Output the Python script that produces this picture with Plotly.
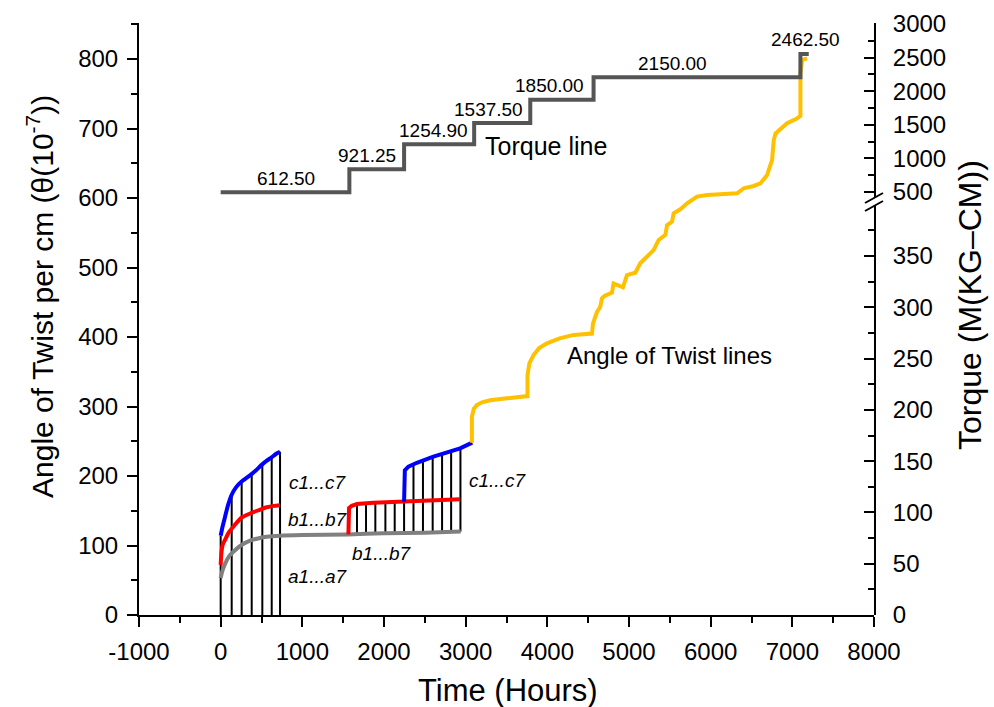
import plotly.graph_objects as go

# ---------------- data ----------------
# a1...a7 (grey) creep curve
a_t = [0, 20, 55, 100, 155, 255, 360, 470, 565, 727, 1000, 1560, 2000, 2500, 2940]
a_v = [53, 63, 74, 84, 91, 100.7, 107, 110.5, 112.5, 114, 115, 116, 117.5, 118.5, 120]

# b1...b7 (red) first load
b1_t = [0, 8, 24, 53, 100, 155, 255, 360, 470, 565, 650, 727]
b1_v = [72, 88, 101, 108, 119, 127, 140, 146, 151, 155, 157, 158]
# b1...b7 (red) second load
b2_t = [1564, 1564, 1572, 1605, 1669, 1870, 2238, 2605, 2932]
b2_v = [116, 148, 154, 157, 159.7, 161.6, 163, 165.5, 166.5]

# c1...c7 (blue) first load
c1_t = [0, 25, 55, 90, 135, 190, 257, 359, 430, 502, 565, 625, 680, 727]
c1_v = [114, 128, 142, 158, 173, 184, 192, 201, 208, 216, 222, 227, 232, 235]
# c1...c7 (blue) second load
c2_t = [2246, 2246, 2255, 2299, 2402, 2605, 2810, 2932, 3080]
c2_v = [163, 201, 208, 213.4, 219, 227.8, 235, 239.8, 248]

# angle of twist (yellow)
y_t = [3076, 3076, 3100, 3137, 3200, 3300, 3505, 3757, 3757, 3780, 3831, 3900, 3995, 4150,
       4321, 4547, 4559, 4580, 4608, 4648, 4669, 4700, 4792, 4811, 4870, 4926, 4975, 5077,
       5138, 5220, 5301, 5363, 5445, 5466, 5527, 5547, 5629, 5711, 5833, 5956, 6241, 6324,
       6405, 6527, 6609, 6691, 6752, 6772, 6795, 6860, 6936, 7050, 7099, 7099, 7120, 7181]
y_v = [248, 285, 297, 302, 306, 309, 311.8, 315, 345, 362, 374, 384, 391, 398,
       403, 405, 419.7, 428, 436, 443.6, 455.7, 459, 463.8, 477, 474, 471.5, 489, 492.5,
       506, 515, 525, 539.6, 546.8, 561, 566, 578, 583.7, 592.4, 602, 604.3, 605.3, 606.7,
       614, 617.3, 621, 633, 654.7, 683, 693, 700, 707.5, 714, 718, 779, 798.6, 801]

# vertical measurement lines
g1_t = [0, 135, 257, 380, 510, 625, 727]
g1_top = [114, 173, 192, 203, 217, 227, 235]
g2b_t = [1669, 1780, 1894, 2017, 2131]
g2b_bot = [117, 117.5, 118, 118, 118.5]
g2b_top = [159.7, 160.5, 161.3, 162, 162.5]
g2c_t = [2246, 2361, 2477, 2596, 2711, 2822, 2936]
g2c_bot = [118.5, 119, 119, 119.5, 119.5, 120, 120]
g2c_top = [201, 217, 222.5, 227.8, 232, 235.5, 240]

# torque steps
torque_t = [0, 1576, 2246, 3104, 3791, 4566, 7099, 7201]
torque_v = [612.5, 921.25, 1254.9, 1537.5, 1850.0, 2150.0, 2462.5, 2462.5]
torque_labels = ["612.50", "921.25", "1254.90", "1537.50", "1850.00", "2150.00", "2462.50"]

# tick labels
x_ticks = [-1000, 0, 1000, 2000, 3000, 4000, 5000, 6000, 7000, 8000]
x_ticklabels = ["-1000", "0", "1000", "2000", "3000", "4000", "5000", "6000", "7000", "8000"]

# ---------------- layout geometry ----------------
W, H = 994, 707
ML, MR, MT, MB = 139, 120, 23, 92
PW = W - ML - MR
PH = H - MT - MB
BOTTOM = H - MB


def pxx(px):
    return (px - ML) / PW


def pxy(py):
    return (BOTTOM - py) / PH


FONT = "Liberation Sans, Arial, sans-serif"

# torque hidden axis mapping (left-axis units = A + B*torque)
A_MAP, B_MAP = 542.5, 0.1075
LEFT_TOP = 851.8

fig = go.Figure()


def seg_xy(ts, bots, tops):
    xs, ys = [], []
    for t, b, tp in zip(ts, bots, tops):
        xs += [t, t, None]
        ys += [b, tp, None]
    return xs, ys


lx1, ly1 = seg_xy(g1_t, [0] * len(g1_t), g1_top)
lx2, ly2 = seg_xy(g2b_t, g2b_bot, g2b_top)
lx3, ly3 = seg_xy(g2c_t, g2c_bot, g2c_top)
fig.add_trace(go.Scatter(x=lx1 + lx2 + lx3, y=ly1 + ly2 + ly3, mode="lines",
                         line=dict(color="black", width=2), hoverinfo="skip"))

fig.add_trace(go.Scatter(x=a_t, y=a_v, mode="lines", line=dict(color="#808080", width=4, shape="spline", smoothing=0.6)))
fig.add_trace(go.Scatter(x=b1_t, y=b1_v, mode="lines", line=dict(color="#FF0000", width=4, shape="spline", smoothing=0.6)))
fig.add_trace(go.Scatter(x=b2_t, y=b2_v, mode="lines", line=dict(color="#FF0000", width=4)))
fig.add_trace(go.Scatter(x=c1_t, y=c1_v, mode="lines", line=dict(color="#0000FF", width=4, shape="spline", smoothing=0.6)))
fig.add_trace(go.Scatter(x=c2_t, y=c2_v, mode="lines", line=dict(color="#0000FF", width=4)))
fig.add_trace(go.Scatter(x=y_t, y=y_v, mode="lines", line=dict(color="#FFC000", width=4)))

fig.add_trace(go.Scatter(x=torque_t, y=torque_v, mode="lines", yaxis="y4",
                         line=dict(color="#555555", width=4, shape="hv")))

# empty traces to instantiate right-hand axes
fig.add_trace(go.Scatter(x=[None], y=[None], yaxis="y2", hoverinfo="skip"))
fig.add_trace(go.Scatter(x=[None], y=[None], yaxis="y3", hoverinfo="skip"))

tickfont = dict(family=FONT, size=24, color="black")

fig.update_layout(
    width=W, height=H,
    margin=dict(l=ML, r=MR, t=MT, b=MB, autoexpand=False),
    paper_bgcolor="white", plot_bgcolor="rgba(0,0,0,0)",
    showlegend=False,
    font=dict(family=FONT, color="black"),
    xaxis=dict(range=[-1000, 8000], tickmode="array", tickvals=x_ticks, ticktext=x_ticklabels,
               showgrid=False, zeroline=False, automargin=False,
               showline=True, linecolor="black", linewidth=2,
               ticks="outside", ticklen=10, tickwidth=2, tickcolor="black",
               minor=dict(dtick=500, tick0=0, ticks="outside", ticklen=6, tickwidth=2, tickcolor="black"),
               tickfont=tickfont, ticklabelstandoff=4, anchor="y"),
    yaxis=dict(range=[0, LEFT_TOP], dtick=100, tick0=0, showgrid=False, zeroline=False, automargin=False,
               showline=True, linecolor="black", linewidth=2,
               ticks="outside", ticklen=10, tickwidth=2, tickcolor="black",
               minor=dict(dtick=50, ticks="outside", ticklen=6, tickwidth=2, tickcolor="black"),
               tickfont=tickfont, ticklabelstandoff=4, anchor="x", domain=[0, 1]),
    yaxis2=dict(range=[0, (BOTTOM - 205) / 1.0257], dtick=50, tick0=0, showgrid=False, zeroline=False,
                automargin=False,
                showline=True, linecolor="black", linewidth=2, side="right", anchor="x",
                domain=[0, pxy(205)],
                ticks="inside", ticklen=10, tickwidth=2, tickcolor="black",
                minor=dict(dtick=25, ticks="inside", ticklen=6, tickwidth=2, tickcolor="black"),
                tickfont=tickfont, ticklabelstandoff=12),
    yaxis3=dict(range=[500 - 5 / 0.0672, 3000 + 1 / 0.0672], dtick=500, tick0=0, showgrid=False, zeroline=False,
                automargin=False,
                showline=True, linecolor="black", linewidth=2, side="right", anchor="x",
                domain=[pxy(197), 1],
                ticks="inside", ticklen=10, tickwidth=2, tickcolor="black",
                minor=dict(dtick=250, ticks="inside", ticklen=6, tickwidth=2, tickcolor="black"),
                tickfont=tickfont, ticklabelstandoff=12),
    yaxis4=dict(range=[(0 - A_MAP) / B_MAP, (LEFT_TOP - A_MAP) / B_MAP], overlaying="y",
                visible=False, showgrid=False, zeroline=False, automargin=False),
)

# axis break marks
for y0 in (203, 211):
    fig.add_shape(type="line", xref="paper", yref="paper",
                  x0=pxx(ML + PW - 9), y0=pxy(y0), x1=pxx(ML + PW + 9), y1=pxy(y0 - 10),
                  line=dict(color="black", width=2))

ann = []
# axis titles
ann.append(dict(text="Time (Hours)", xref="paper", yref="paper", x=pxx(508), y=pxy(690),
                xanchor="center", yanchor="middle", showarrow=False, font=dict(size=31)))
ann.append(dict(text="Angle of Twist per cm (θ(10<sup>-7</sup>))", xref="paper", yref="paper",
                x=pxx(40), y=pxy(297), textangle=-90, xanchor="center", yanchor="middle",
                showarrow=False, font=dict(size=30)))
ann.append(dict(text="Torque (M(KG–CM))", xref="paper", yref="paper",
                x=pxx(970), y=pxy(305), textangle=-90, xanchor="center", yanchor="middle",
                showarrow=False, font=dict(size=32)))

# torque labels
label_t = [802, 1793, 2600, 3276, 4024, 5529, 7160]
for lt, tv, txt in zip(label_t, torque_v, torque_labels):
    ann.append(dict(text=txt, x=lt, y=tv, xref="x", yref="y4", xanchor="center", yanchor="middle",
                    yshift=14, showarrow=False, font=dict(size=19)))

ann.append(dict(text="Torque line", x=3214, y=675, xref="x", yref="y", xanchor="left",
                yanchor="middle", showarrow=False, font=dict(size=25)))
ann.append(dict(text="Angle of Twist lines", x=4219, y=374, xref="x", yref="y", xanchor="left",
                yanchor="middle", showarrow=False, font=dict(size=24)))

for txt, tx, ty in [("c1...c7", 809, 190), ("b1...b7", 800, 137), ("a1...a7", 800, 55),
                    ("b1...b7", 1585, 89), ("c1...c7", 3015, 194)]:
    ann.append(dict(text="<i>" + txt + "</i>", x=tx, y=ty, xref="x", yref="y", xanchor="left",
                    yanchor="middle", showarrow=False, font=dict(size=19)))

fig.update_layout(annotations=ann)

fig.write_html("out.html")
